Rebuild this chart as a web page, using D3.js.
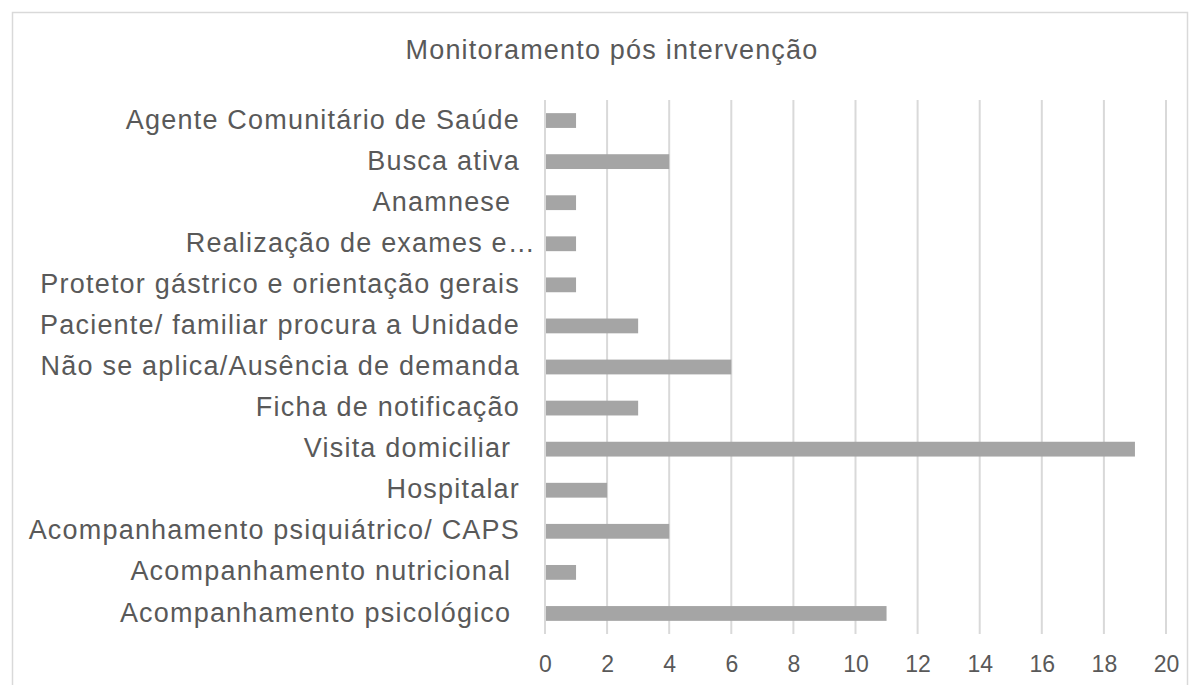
<!DOCTYPE html>
<html>
<head>
<meta charset="utf-8">
<script src="https://cdn.jsdelivr.net/npm/d3@7"></script>
<style>
  body { margin: 0; background: #fff; }
  text { font-family: "Liberation Sans", Arial, sans-serif; fill: #595959; white-space: pre; }
</style>
</head>
<body>
<svg width="1199" height="685"></svg>
<script>
const categories = [
  "Agente Comunitário de Saúde",
  "Busca ativa",
  "Anamnese ",
  "Realização de exames e…",
  "Protetor gástrico e orientação gerais",
  "Paciente/ familiar procura a Unidade",
  "Não se aplica/Ausência de demanda",
  "Ficha de notificação",
  "Visita domiciliar ",
  "Hospitalar",
  "Acompanhamento psiquiátrico/ CAPS",
  "Acompanhamento nutricional ",
  "Acompanhamento psicológico "
];
const values = [1, 4, 1, 1, 1, 3, 6, 3, 19, 2, 4, 1, 11];
const xTicks = [0, 2, 4, 6, 8, 10, 12, 14, 16, 18, 20];

const svg = d3.select("svg");

// outer border
svg.append("rect")
  .attr("x", 12.5).attr("y", 12.5)
  .attr("width", 1175).attr("height", 700)
  .attr("fill", "none").attr("stroke", "#d9d9d9").attr("stroke-width", 1.5);

svg.append("text")
  .attr("x", 612).attr("y", 59)
  .attr("text-anchor", "middle")
  .style("font-size", "27px")
  .style("letter-spacing", "1.2px")
  .text("Monitoramento pós intervenção");

const x = d3.scaleLinear().domain([0, 20]).range([545, 1166]);
const y = d3.scaleBand().domain(categories).range([100, 634]).paddingInner(0.64).paddingOuter(0.32);

// gridlines
svg.append("g").selectAll("line")
  .data(xTicks)
  .enter().append("line")
  .attr("x1", d => x(d)).attr("x2", d => x(d))
  .attr("y1", 100).attr("y2", 634)
  .attr("stroke", "#d9d9d9").attr("stroke-width", 2);

// bars
svg.append("g").selectAll("rect")
  .data(values)
  .enter().append("rect")
  .attr("x", x(0) + 1)
  .attr("y", (d, i) => y(categories[i]))
  .attr("width", d => x(d) - x(0) - 1)
  .attr("height", y.bandwidth())
  .attr("fill", "#a5a5a5");

// category labels
svg.append("g").selectAll("text")
  .data(categories)
  .enter().append("text")
  .attr("x", d => d.indexOf("…") >= 0 ? 536 : 520)
  .attr("y", d => y(d) + y.bandwidth() / 2)
  .attr("dy", "0.3em")
  .attr("text-anchor", "end")
  .style("font-size", "27px")
  .style("letter-spacing", "1.2px")
  .text(d => d);

// x tick labels
const xAxis = d3.axisBottom(x).tickValues(xTicks).tickSize(0).tickPadding(0);
const ax = svg.append("g")
  .attr("transform", "translate(0,672)")
  .call(xAxis);
ax.select(".domain").remove();
ax.selectAll("text")
  .attr("dy", 0)
  .style("font-size", "23px")
  .style("font-family", "Liberation Sans, Arial, sans-serif")
  .attr("fill", "#595959");
</script>
</body>
</html>
